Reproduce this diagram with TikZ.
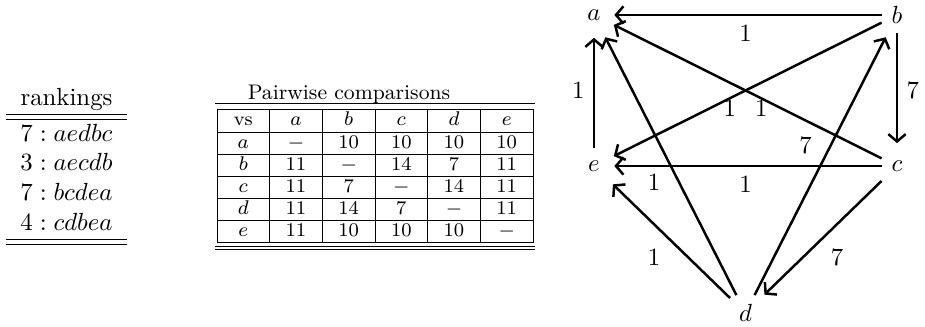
\documentclass[tikz,border=0pt]{standalone}
\usepackage{tikz}
\usetikzlibrary{arrows.meta}

\tikzset{
  vtx/.style={rectangle, inner sep=0pt, minimum width=12pt, minimum height=14pt},
  arc/.style={-{Straight Barb[length=3pt, width=7pt]}, line width=1pt, shorten >=2pt},
  cell/.style={font=\fontsize{7.8}{9}\selectfont, text height=5.4pt, text depth=1.6pt, inner sep=0pt},
}

\begin{document}
\begin{tikzpicture}[x=0.4032pt, y=-0.4032pt]
\useasboundingbox (0,0) rectangle (925,327);

% rankings
\node[inner sep=0pt] (rank) at (66.5,165) {\begin{tabular}{c}
rankings \\ \hline\hline
$7 : aedbc$ \\
$3 : aecdb$ \\
$7 : bcdea$ \\
$4 : cdbea$ \\ \hline\hline
\end{tabular}};

% pairwise table
\node[font=\fontsize{8.5}{10}\selectfont, inner sep=0pt] (title) at (349,94) {Pairwise comparisons};
\draw (215,104) -- (535,104);
\draw (215,247) -- (535,247);
\draw (215,250) -- (535,250);

\draw (217,110) rectangle (533,243);
\draw (217,132.2) -- (533,132.2);
\draw (217,154.3) -- (533,154.3);
\draw (217,176.5) -- (533,176.5);
\draw (217,198.7) -- (533,198.7);
\draw (217,220.8) -- (533,220.8);
\draw (269.7,110) -- (269.7,243);
\draw (322.3,110) -- (322.3,243);
\draw (375,110) -- (375,243);
\draw (427.7,110) -- (427.7,243);
\draw (480.3,110) -- (480.3,243);

\node[cell] (vs) at (243.3,121.1) {vs};
\node[cell] (ha) at (296,121.1) {$a$};
\node[cell] (hb) at (348.7,121.1) {$b$};
\node[cell] (hc) at (401.3,121.1) {$c$};
\node[cell] (hd) at (454,121.1) {$d$};
\node[cell] (he) at (506.7,121.1) {$e$};

\node[cell] (ra) at (243.3,143.3) {$a$};
\node[cell] (aa) at (296,143.3) {$-$};
\node[cell] (ab) at (348.7,143.3) {10};
\node[cell] (ac) at (401.3,143.3) {10};
\node[cell] (ad) at (454,143.3) {10};
\node[cell] (ae) at (506.7,143.3) {10};

\node[cell] (rb) at (243.3,165.4) {$b$};
\node[cell] (ba) at (296,165.4) {11};
\node[cell] (bb) at (348.7,165.4) {$-$};
\node[cell] (bc) at (401.3,165.4) {14};
\node[cell] (bd) at (454,165.4) {7};
\node[cell] (be) at (506.7,165.4) {11};

\node[cell] (rc) at (243.3,187.6) {$c$};
\node[cell] (ca) at (296,187.6) {11};
\node[cell] (cb) at (348.7,187.6) {7};
\node[cell] (cc) at (401.3,187.6) {$-$};
\node[cell] (cd) at (454,187.6) {14};
\node[cell] (ce) at (506.7,187.6) {11};

\node[cell] (rd) at (243.3,209.8) {$d$};
\node[cell] (da) at (296,209.8) {11};
\node[cell] (db) at (348.7,209.8) {14};
\node[cell] (dc) at (401.3,209.8) {7};
\node[cell] (dd) at (454,209.8) {$-$};
\node[cell] (de) at (506.7,209.8) {11};

\node[cell] (re) at (243.3,231.9) {$e$};
\node[cell] (ea) at (296,231.9) {11};
\node[cell] (eb) at (348.7,231.9) {10};
\node[cell] (ec) at (401.3,231.9) {10};
\node[cell] (ed) at (454,231.9) {10};
\node[cell] (ee) at (506.7,231.9) {$-$};

% majority graph
\node[vtx] (a) at (594,15) {$a$};
\node[vtx] (b) at (897,15) {$b$};
\node[vtx] (e) at (594,166) {$e$};
\node[vtx] (c) at (897,166) {$c$};
\node[vtx] (d) at (745.5,313) {$d$};

\draw[arc] (b) -- node[below] {1} (a);
\draw[arc] (e) -- node[left] {1} (a);
\draw[arc] (b) -- node[right] {7} (c);
\draw[arc] (b) -- node[below left] {1} (e);
\draw[arc] (c) -- node[below right] {1} (a);
\draw[arc] (c) -- node[below] {1} (e);
\draw[arc] (d) -- node[below left] {1} (a);
\draw[arc] (d) -- node[above left] {7} (b);
\draw[arc] (d) -- node[below left] {1} (e);
\draw[arc] (c) -- node[below right] {7} (d);

\end{tikzpicture}
\end{document}
